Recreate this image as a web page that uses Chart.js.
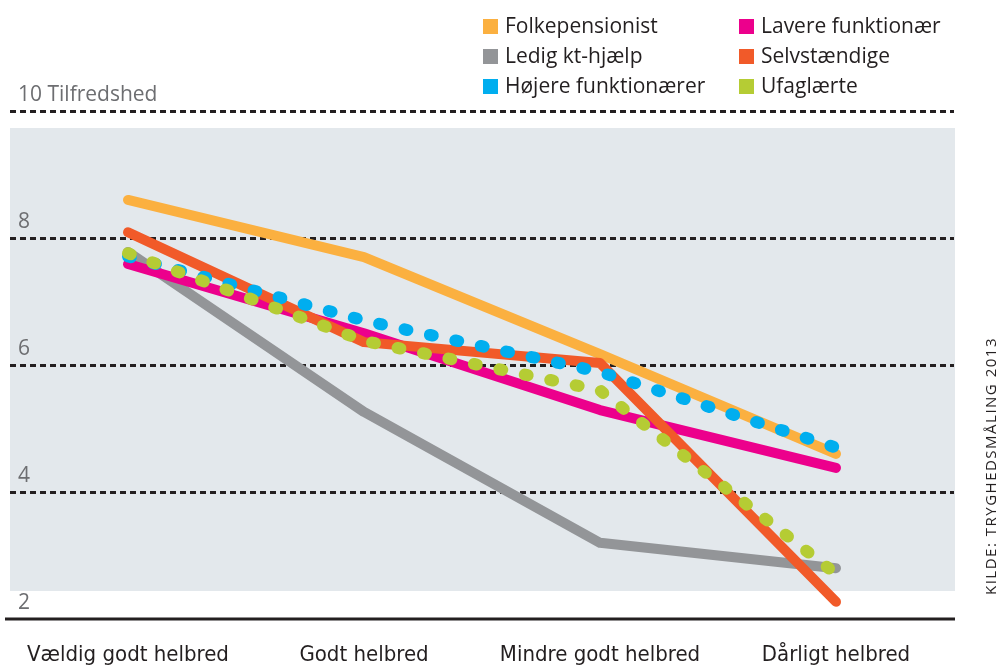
<!DOCTYPE html>
<html>
<head>
<meta charset="utf-8">
<script src="https://cdn.jsdelivr.net/npm/chart.js@4.4.1/dist/chart.umd.min.js"></script>
<style>
  html, body { margin: 0; padding: 0; background: #ffffff; }
  #wrap { position: relative; width: 1003px; height: 666px; overflow: hidden; }
  #c { position: absolute; left: 0; top: 0; }
  .leg { position: absolute; font-family: "Open Sans", sans-serif; font-size: 21px; color: #231f20; line-height: 30px; white-space: nowrap; }
  .leg span.sw { display: inline-block; width: 15px; height: 15px; margin-right: 7px; vertical-align: -1px; }
  #src { position: absolute; left: 990px; top: 466px; transform: translate(-50%, -50%) rotate(-90deg); font-family: "Open Sans", sans-serif; font-size: 15px; letter-spacing: 1.5px; color: #231f20; white-space: nowrap; }
</style>
</head>
<body>
<div id="wrap">
  <canvas id="c" width="1003" height="666"></canvas>
  <div id="leg1" class="leg" style="left:483px; top:10px;"></div>
  <div id="leg2" class="leg" style="left:739px; top:10px;"></div>
  <div id="src">KILDE: TRYGHEDSMÅLING 2013</div>
</div>
<script>
const categories = ['Vældig godt helbred', 'Godt helbred', 'Mindre godt helbred', 'Dårligt helbred'];
const seriesNames = ['Folkepensionist', 'Ledig kt-hjælp', 'Højere funktionærer', 'Lavere funktionær', 'Selvstændige', 'Ufaglærte'];
const folkepensionist = [8.6, 7.7, 6.17, 4.6];
const ledigKtHjaelp = [7.78, 5.26, 3.2, 2.8];
const hojereFunktionaerer = [7.71, 6.7, 5.89, 4.7];
const lavereFunktionaer = [7.59, 6.5, 5.29, 4.38];
const selvstaendige = [8.09, 6.36, 6.03, 2.27];
const ufaglaerte = [7.76, 6.38, 5.6, 2.71];
const yTicks = [2, 4, 6, 8, 10];
const yTopLabel = '10 Tilfredshed';
const colors = ['#fbb040', '#939598', '#00aeef', '#ec008c', '#f15a29', '#b5cc34'];

// HTML legend (two columns)
const legCols = [document.getElementById('leg1'), document.getElementById('leg2')];
seriesNames.forEach((n, i) => {
  const col = legCols[i < 3 ? 0 : 1];
  const d = document.createElement('div');
  d.innerHTML = '<span class="sw" style="background:' + colors[i] + '"></span>' + n;
  col.appendChild(d);
});

const bgPlugin = {
  id: 'bg',
  beforeDraw(chart) {
    const { ctx, chartArea: a, scales: { y } } = chart;
    ctx.save();
    ctx.fillStyle = '#ffffff';
    ctx.fillRect(0, 0, chart.width, chart.height);
    ctx.fillStyle = '#e3e8ec';
    const top = y.getPixelForValue(10) + 17;
    const bot = y.getPixelForValue(2) - 28;
    ctx.fillRect(a.left, top, a.right - a.left + 1, bot - top);
    ctx.restore();
  },
  afterDatasetsDraw(chart) {
    const { ctx, chartArea: a, scales: { y } } = chart;
    const yy = y.getPixelForValue(2);
    ctx.save();
    ctx.strokeStyle = '#231f20';
    ctx.lineWidth = 3;
    ctx.beginPath();
    ctx.moveTo(a.left - 5, yy);
    ctx.lineTo(a.right + 1, yy);
    ctx.stroke();
    ctx.restore();
  }
};

function ds(i, data, dotted, order) {
  const o = {
    label: seriesNames[i],
    data: data,
    borderColor: colors[i],
    backgroundColor: colors[i],
    borderWidth: dotted ? 12 : 10,
    borderCapStyle: 'round',
    borderJoinStyle: 'round',
    pointRadius: 0,
    tension: 0,
    order: order
  };
  if (dotted) { o.borderDash = [3, 23]; }
  return o;
}

new Chart(document.getElementById('c'), {
  type: 'line',
  data: {
    labels: categories,
    datasets: [
      ds(0, folkepensionist, false, 5),
      ds(1, ledigKtHjaelp, false, 4),
      ds(2, hojereFunktionaerer, true, 1),
      ds(3, lavereFunktionaer, false, 3),
      ds(4, selvstaendige, false, 2),
      ds(5, ufaglaerte, true, 0)
    ]
  },
  options: {
    responsive: false,
    animation: false,
    devicePixelRatio: 1,
    layout: { padding: { left: 10, right: 49, top: 111, bottom: 0 } },
    plugins: { legend: { display: false }, tooltip: { enabled: false } },
    scales: {
      x: {
        offset: true,
        afterFit(scale) { scale.height = 47; },
        grid: { display: false, drawTicks: false },
        border: { display: false },
        ticks: {
          padding: 23,
          color: '#231f20',
          font: { family: '"Liberation Sans Narrow", "DejaVu Sans Condensed", "Roboto", sans-serif', size: 22 }
        }
      },
      y: {
        min: 2,
        max: 10,
        afterFit(scale) { scale.width = 0; },
        afterBuildTicks(scale) { scale.ticks = yTicks.map(v => ({ value: v })); },
        grid: {
          drawTicks: false,
          lineWidth: 3,
          color: ctx => (ctx.tick && ctx.tick.value === 2) ? 'rgba(0,0,0,0)' : '#231f20'
        },
        border: { display: false, dash: [6, 4] },
        ticks: {
          mirror: true,
          padding: 8,
          labelOffset: -16,
          color: '#6d6e71',
          font: { family: '"Open Sans", sans-serif', size: 21 },
          callback: v => (v === 10 ? yTopLabel : String(v))
        }
      }
    }
  },
  plugins: [bgPlugin]
});
</script>
</body>
</html>
